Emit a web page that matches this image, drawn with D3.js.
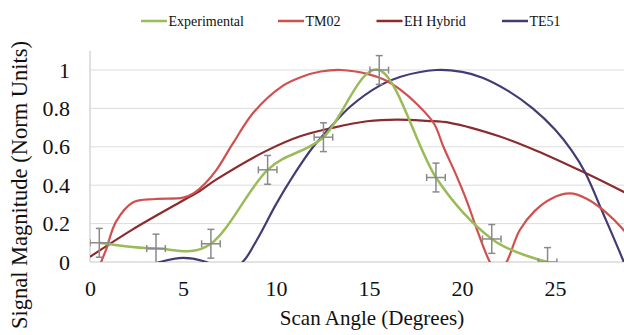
<!DOCTYPE html>
<html><head><meta charset="utf-8">
<script src="https://cdn.jsdelivr.net/npm/d3@7"></script>
<style>
html,body{margin:0;padding:0;background:#fff;overflow:hidden;}
</style></head>
<body>
<svg id="chart" width="624" height="335" font-family="Liberation Serif"></svg>
<script>
// ---- Data ----
const xTicks = [0, 5, 10, 15, 20, 25];
const yTicks = [0, 0.2, 0.4, 0.6, 0.8, 1];
const yTickLabels = ["0", "0.2", "0.4", "0.6", "0.8", "1"];

const seriesNames = ["Experimental", "TM02", "EH Hybrid", "TE51"];
const seriesColors = ["#9bbb59", "#d0504f", "#8b2b2e", "#433c74"];

// Experimental measurements (with error bars)
const expAngle = [0.5, 3.55, 6.5, 9.55, 12.55, 15.55, 18.6, 21.6, 24.6];
const expValue = [0.10, 0.07, 0.095, 0.48, 0.65, 1.0, 0.44, 0.12, 0.0];
const expYErr = [0.075, 0.075, 0.075, 0.075, 0.075, 0.075, 0.075, 0.075, 0.075];
const expXErr = [0.5, 0.5, 0.5, 0.5, 0.5, 0.5, 0.5, 0.5, 0.5];

// TM02 model
const tm02Angle = [0, 0.6, 0.85, 1.4, 2.3, 3.5, 5.0, 5.6, 6.2, 6.8, 7.7, 8.8, 10.4, 11.4, 12.4, 13.5, 14.9, 15.8, 16.7, 17.6, 18.5, 19.0, 19.7, 20.25, 20.8, 21.5, 21.95, 22.4, 23.1, 23.9, 24.8, 25.8, 26.7, 27.6, 28.7, 29.6];
const tm02Value = [-0.2, 0, 0.06, 0.21, 0.31, 0.328, 0.335, 0.36, 0.41, 0.48, 0.62, 0.78, 0.92, 0.965, 0.992, 1.0, 0.98, 0.95, 0.896, 0.82, 0.72, 0.60, 0.45, 0.32, 0.17, 0, -0.06, 0, 0.165, 0.265, 0.33, 0.357, 0.33, 0.27, 0.165, 0.04];

// EH Hybrid model
const ehAngle = [0, 2.3, 5.0, 5.9, 6.8, 9.5, 11.3, 13.1, 14.9, 16.5, 18.1, 19.35, 22.0, 24.0, 26.5, 28.7, 30];
const ehValue = [0.027, 0.17, 0.32, 0.37, 0.43, 0.58, 0.655, 0.70, 0.733, 0.742, 0.735, 0.725, 0.655, 0.58, 0.47, 0.365, 0.30];

// TE51 model
const te51Angle = [0, 2.0, 3.75, 5.0, 6.25, 7.2, 8.2, 9.0, 10.0, 11.0, 12.0, 13.0, 14.0, 15.6, 16.7, 18.6, 20.0, 21.1, 22.5, 23.8, 25.0, 25.9, 26.6, 27.6, 28.7, 29.5];
const te51Value = [-0.1, -0.06, 0, 0.022, 0, -0.05, 0, 0.12, 0.30, 0.46, 0.60, 0.71, 0.81, 0.92, 0.965, 1.0, 0.99, 0.96, 0.89, 0.80, 0.69, 0.58, 0.47, 0.25, 0, -0.2];

// ---- Drawing ----
const FONT = "Liberation Serif";
const svg = d3.select("#chart");
const x = d3.scaleLinear().domain([0, 30]).range([90, 648]);
const y = d3.scaleLinear().domain([0, 1.1]).range([262, 50.8]);

svg.append("defs").append("clipPath").attr("id", "plotclip")
  .append("rect").attr("x", 90).attr("y", 30).attr("width", 560).attr("height", 232);

// gridlines
svg.append("g").selectAll("line").data(yTicks.slice(1)).join("line")
  .attr("x1", 90).attr("x2", 624)
  .attr("y1", d => y(d)).attr("y2", d => y(d))
  .attr("stroke", "#dcdcdc").attr("stroke-width", 1);

// y axis line (light)
svg.append("line").attr("x1", 90).attr("x2", 90).attr("y1", y(1.1)).attr("y2", y(0))
  .attr("stroke", "#d6d6d6").attr("stroke-width", 1.5);
// x axis line
svg.append("line").attr("x1", 90).attr("x2", 624).attr("y1", y(0)).attr("y2", y(0))
  .attr("stroke", "#c8c8c8").attr("stroke-width", 1.2);

// y tick labels
const yAxis = d3.axisLeft(y).tickValues(yTicks).tickSize(0).tickPadding(0)
  .tickFormat((d, i) => yTickLabels[i]);
const gy = svg.append("g").attr("transform", "translate(70,0)").call(yAxis);
gy.attr("font-family", FONT).attr("font-size", 22);
gy.select(".domain").remove();
gy.selectAll("text").attr("fill", "#111");

// x tick labels
const xAxis = d3.axisBottom(x).tickValues(xTicks).tickSize(0).tickPadding(0).tickFormat(d3.format("d"));
const gx = svg.append("g").attr("transform", "translate(0,280)").call(xAxis);
gx.attr("font-family", FONT).attr("font-size", 22);
gx.select(".domain").remove();
gx.selectAll("text").attr("fill", "#111");

// axis titles
const titles = svg.append("g").attr("font-family", FONT).attr("fill", "#111");
titles.append("text").attr("x", 372).attr("y", 318).attr("dy", "0.35em").attr("text-anchor", "middle")
  .attr("font-size", 21).text("Scan Angle (Degrees)");
titles.append("text").attr("transform", "translate(19,185) rotate(-90)").attr("dy", "0.35em")
  .attr("text-anchor", "middle").attr("font-size", 22.5).text("Signal Magnitude (Norm Units)");

// lines
const plot = svg.append("g").attr("clip-path", "url(#plotclip)");
const mk = (xs, ys) => xs.map((a, i) => [a, ys[i]]);
const smooth = d3.line().x(d => x(d[0])).y(d => y(d[1])).curve(d3.curveCatmullRom.alpha(0.5));
const excelSmooth = d3.line().x(d => x(d[0])).y(d => y(d[1])).curve(d3.curveCardinal.tension(0));

const models = [
  {data: mk(ehAngle, ehValue), color: seriesColors[2]},
  {data: mk(te51Angle, te51Value), color: seriesColors[3]},
  {data: mk(tm02Angle, tm02Value), color: seriesColors[1]},
];
models.forEach(m => {
  plot.append("path").attr("d", smooth(m.data)).attr("fill", "none")
    .attr("stroke", m.color).attr("stroke-width", 2.2);
});
plot.append("path").attr("d", excelSmooth(mk(expAngle, expValue))).attr("fill", "none")
  .attr("stroke", seriesColors[0]).attr("stroke-width", 2.5);

// error bars
const eb = plot.append("g").attr("stroke", "#8a8a8a").attr("stroke-width", 1.5).attr("fill", "none");
const cap = 3.5;
expAngle.forEach((a, i) => {
  const cx = x(a), cy = y(expValue[i]);
  const y1 = y(expValue[i] + expYErr[i]), y2 = y(expValue[i] - expYErr[i]);
  const x1 = x(a - expXErr[i]), x2 = x(a + expXErr[i]);
  eb.append("line").attr("x1", cx).attr("x2", cx).attr("y1", y1).attr("y2", y2);
  eb.append("line").attr("x1", cx - cap).attr("x2", cx + cap).attr("y1", y1).attr("y2", y1);
  eb.append("line").attr("x1", cx - cap).attr("x2", cx + cap).attr("y1", y2).attr("y2", y2);
  eb.append("line").attr("x1", x1).attr("x2", x2).attr("y1", cy).attr("y2", cy);
  eb.append("line").attr("x1", x1).attr("x2", x1).attr("y1", cy - cap).attr("y2", cy + cap);
  eb.append("line").attr("x1", x2).attr("x2", x2).attr("y1", cy - cap).attr("y2", cy + cap);
});

// legend
const legendX = [141, 278, 376.5, 502];
const lg = svg.append("g").attr("font-family", FONT).attr("font-size", 14).attr("fill", "#111");
seriesNames.forEach((n, i) => {
  lg.append("line").attr("x1", legendX[i]).attr("x2", legendX[i] + 26).attr("y1", 21).attr("y2", 21)
    .attr("stroke", seriesColors[i]).attr("stroke-width", 2.5);
  lg.append("text").attr("x", legendX[i] + 27.5).attr("y", 21).attr("dy", "0.35em").text(n);
});
</script>
</body></html>
